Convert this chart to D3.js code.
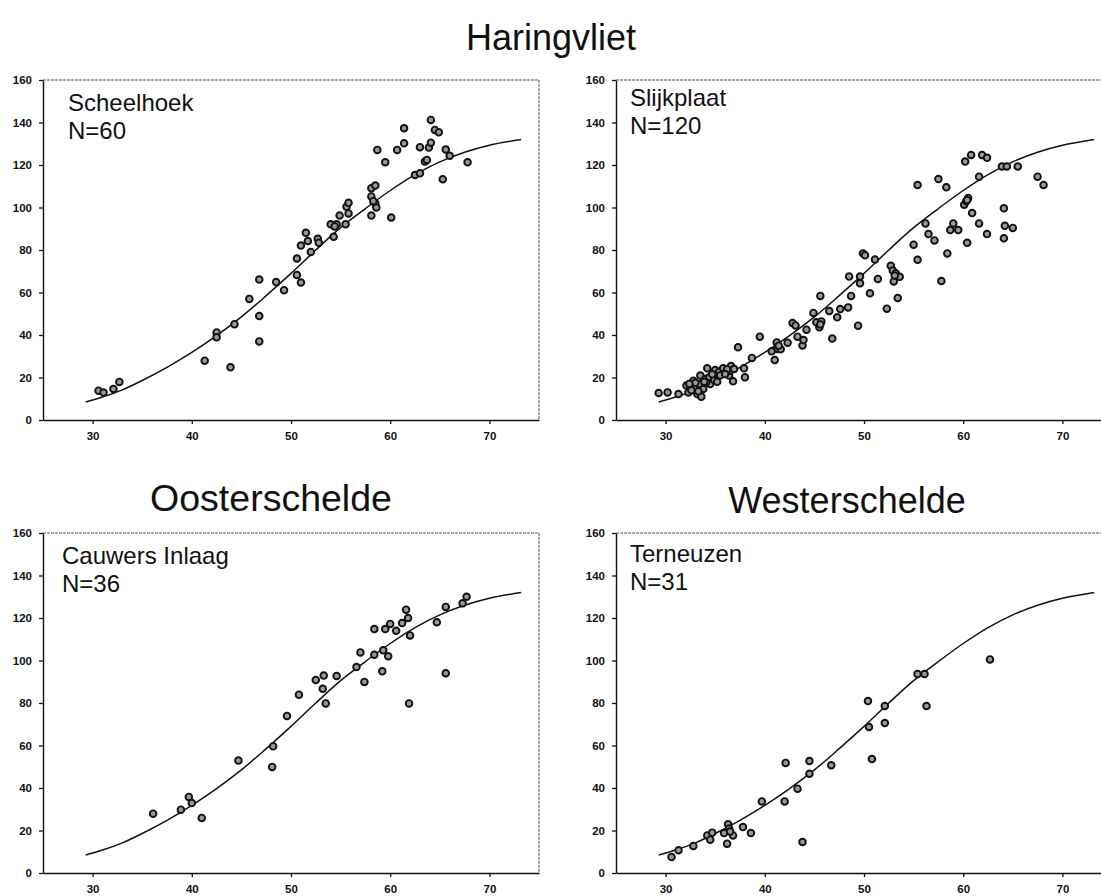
<!DOCTYPE html>
<html>
<head>
<meta charset="utf-8">
<script src="https://cdn.jsdelivr.net/npm/d3@7"></script>
<style>
body { margin: 0; background: #fff; }
svg text { font-family: "Liberation Sans", Arial, Helvetica, sans-serif; }
</style>
</head>
<body>
<div id="chart"></div>
<script>
/* Data: [length, value] */
var xTicks = [30, 40, 50, 60, 70];
var yTicks = [0, 20, 40, 60, 80, 100, 120, 140, 160];

var fitCurve = [[29.3, 8.5], [31, 10.8], [33, 14.2], [35, 18.6], [37.5, 24.8], [40, 31.8], [42.5, 39.7],
  [45, 48.5], [47.5, 58.5], [50, 69], [52.5, 80], [55, 90.5], [57.5, 99.5], [60, 108],
  [62.5, 115.5], [65, 121.5], [67.5, 126], [70, 129.3], [73.2, 132]];

var scheelhoek = [[30.6, 13.8], [31.1, 12.9], [32.1, 14.6], [32.7, 17.9], [41.3, 27.9], [42.5, 41.2],
  [42.5, 38.9], [43.9, 24.8], [44.3, 45.1], [45.8, 57.0], [46.8, 66.1], [46.8, 48.9], [46.8, 37.0],
  [48.5, 64.9], [49.3, 61.1], [50.6, 76.0], [50.6, 68.2], [51.0, 64.7], [51.0, 82.1], [51.5, 88.1],
  [51.7, 84.2], [52.0, 79.1], [52.7, 85.3], [52.8, 83.4], [54.0, 92.1], [54.3, 86.2], [54.6, 92.1],
  [54.4, 91.1], [54.9, 96.2], [55.5, 92.1], [55.6, 100.3], [55.8, 102.2], [55.8, 97.2], [58.1, 109.1],
  [58.5, 110.3], [58.1, 105.2], [58.5, 102.0], [58.6, 100.0], [58.1, 96.2], [58.7, 127.1], [59.5, 121.3],
  [60.1, 95.3], [60.7, 127.1], [61.4, 130.2], [61.4, 137.3], [62.5, 115.3], [63.0, 116.1], [63.0, 128.4],
  [63.5, 121.6], [63.7, 122.4], [63.9, 128.2], [64.1, 130.5], [64.1, 141.2], [64.5, 136.5], [64.9, 135.4],
  [65.3, 113.3], [65.6, 127.3], [66.0, 124.3], [67.8, 121.3], [58.3, 103.0]];

var slijkplaat = [[29.3, 12.7], [30.2, 13.0], [31.3, 12.2], [32.1, 16.2], [32.3, 13.0], [32.8, 18.5],
  [32.5, 15.1], [32.9, 15.1], [33.2, 12.2], [33.4, 16.9], [33.5, 20.9], [33.6, 11.0], [33.8, 14.6],
  [34.0, 19.3], [34.2, 24.3], [34.4, 20.1], [34.5, 16.9], [34.9, 18.8], [35.0, 23.5], [35.4, 22.7],
  [35.8, 24.3], [36.1, 22.4], [36.4, 20.9], [36.6, 25.4], [36.5, 23.2], [36.8, 18.2], [37.3, 34.2],
  [37.9, 24.3], [38.0, 20.1], [38.7, 29.2], [39.5, 39.2], [40.7, 32.3], [41.0, 28.2], [41.2, 36.5],
  [41.3, 33.4], [41.6, 33.3], [42.3, 36.4], [42.8, 45.6], [43.1, 44.5], [43.3, 39.2], [43.8, 35.1],
  [43.9, 37.6], [44.2, 42.5], [44.9, 50.4], [45.2, 46.0], [45.5, 43.6], [45.7, 46.4], [45.6, 58.4],
  [46.5, 51.3], [46.8, 38.3], [47.3, 48.3], [47.6, 52.2], [48.4, 53.0], [48.5, 67.5], [48.7, 58.4],
  [49.4, 44.4], [49.6, 67.5], [49.6, 64.3], [49.9, 78.4], [50.1, 77.5], [50.6, 59.6], [51.1, 75.5],
  [51.4, 66.4], [52.3, 52.4], [53.4, 57.4], [52.7, 72.6], [52.9, 70.3], [53.2, 69.0], [53.6, 67.4],
  [53.0, 65.2], [55.0, 82.5], [55.4, 110.6], [55.4, 75.4], [56.2, 92.5], [56.5, 87.5], [57.1, 84.5],
  [57.5, 113.4], [57.8, 65.4], [58.3, 109.5], [58.4, 78.4], [58.7, 89.4], [59.0, 92.5], [59.5, 89.4],
  [60.2, 121.6], [60.1, 101.3], [60.3, 102.9], [60.5, 104.5], [60.4, 83.4], [60.8, 124.7], [60.9, 97.4],
  [61.6, 114.5], [61.6, 92.5], [61.9, 124.7], [62.4, 123.4], [62.4, 87.5], [63.9, 119.3], [64.4, 119.3],
  [65.5, 119.3], [64.1, 99.6], [64.2, 91.4], [65.0, 90.4], [64.1, 85.5], [67.5, 114.5], [68.1, 110.6],
  [32.6, 14.0], [33.0, 17.5], [33.3, 13.5], [34.1, 17.8], [34.7, 21.5], [35.5, 21.0], [36.2, 23.8],
  [36.0, 21.6], [36.9, 24.0], [33.9, 18.0], [41.4, 35.0], [45.6, 45.0], [53.1, 68.0], [60.4, 103.5],
  [32.4, 17.0], [35.2, 18.0]];

var cauwers = [[36.1, 27.9], [38.9, 29.8], [39.7, 35.8], [40.0, 32.9], [41.0, 25.9], [44.7, 52.9],
  [48.1, 49.9], [48.2, 59.6], [49.6, 73.9], [50.8, 83.9], [52.5, 90.8], [53.2, 86.7], [53.3, 92.9],
  [53.5, 79.8], [54.6, 92.7], [56.6, 96.9], [57.0, 103.8], [57.4, 89.9], [58.4, 102.7], [58.4, 114.8],
  [59.2, 94.9], [59.3, 104.8], [59.5, 114.8], [59.8, 102.0], [60.0, 117.2], [60.6, 114.0], [61.2, 117.6],
  [61.6, 123.9], [61.8, 120.0], [62.0, 111.8], [61.9, 79.8], [64.7, 118.0], [65.6, 125.2], [65.6, 94.0],
  [67.3, 126.9], [67.7, 130.0]];

var terneuzen = [[30.6, 7.5], [31.3, 10.7], [32.8, 12.7], [34.2, 17.7], [34.5, 15.7], [34.7, 19.0],
  [35.9, 18.8], [36.2, 13.8], [36.3, 22.9], [36.4, 20.9], [36.8, 17.7], [37.8, 21.6], [38.6, 18.8],
  [39.7, 33.7], [42.0, 33.7], [42.1, 51.8], [43.3, 39.7], [43.8, 14.6], [44.5, 46.7], [44.5, 52.7],
  [46.7, 50.7], [50.4, 80.9], [50.5, 68.7], [50.8, 53.6], [52.1, 78.6], [52.1, 70.6], [55.4, 93.6],
  [56.1, 93.6], [56.3, 78.6], [62.7, 100.5], [36.5, 19.5]];

var regions = [
  { text: "Haringvliet", x: 551, y: 50, size: 36 },
  { text: "Oosterschelde", x: 271, y: 511, size: 37.5 },
  { text: "Westerschelde", x: 847, y: 513, size: 36 }
];

var panels = [
  { name: "Scheelhoek", n: "N=60", pts: scheelhoek, left: 43, top: 80, lx: 25, ly: 31 },
  { name: "Slijkplaat", n: "N=120", pts: slijkplaat, left: 616, top: 80, lx: 14, ly: 26 },
  { name: "Cauwers Inlaag", n: "N=36", pts: cauwers, left: 43, top: 533, lx: 19, ly: 31 },
  { name: "Terneuzen", n: "N=31", pts: terneuzen, left: 616, top: 533, lx: 14, ly: 29 }
];

var width = 496;
var height = 340;

var svg = d3.select("#chart").append("svg")
  .attr("width", 1101)
  .attr("height", 896);

svg.selectAll(".region-title")
  .data(regions).enter()
  .append("text")
  .attr("class", "region-title")
  .attr("x", d => d.x)
  .attr("y", d => d.y)
  .attr("text-anchor", "middle")
  .style("font-size", d => d.size + "px")
  .style("fill", "#111")
  .text(d => d.text);

panels.forEach(drawPanel);

function drawPanel(p) {
  var g = svg.append("g")
    .attr("transform", `translate(${p.left}, ${p.top})`);

  var xScale = d3.scaleLinear().domain([25, 75]).range([0, width]);
  var yScale = d3.scaleLinear().domain([0, 160]).range([height, 0]);

  /* thin top and right border */
  g.append("path")
    .attr("d", `M0,0H${width}V${height}`)
    .attr("fill", "none")
    .attr("stroke", "#555")
    .attr("stroke-width", 1)
    .attr("stroke-dasharray", "3,1");

  var xAxis = g.append("g")
    .attr("transform", `translate(0, ${height})`)
    .call(d3.axisBottom(xScale).tickValues(xTicks).tickSize(4).tickPadding(8).tickSizeOuter(0));

  var yAxis = g.append("g")
    .call(d3.axisLeft(yScale).tickValues(yTicks).tickSize(4).tickPadding(7).tickSizeOuter(0));

  [xAxis, yAxis].forEach(function(a) {
    a.select(".domain").attr("stroke", "#111").attr("stroke-width", 1.4);
    a.selectAll(".tick line").attr("stroke", "#111").attr("stroke-width", 1.3);
    a.selectAll(".tick text")
      .style("font-size", "11.5px")
      .style("font-weight", "bold")
      .style("font-family", "'Liberation Sans', Arial, sans-serif")
      .attr("fill", "#111");
  });

  /* fitted curve */
  var line = d3.line()
    .x(d => xScale(d[0]))
    .y(d => yScale(d[1]))
    .curve(d3.curveCatmullRom.alpha(0.5));

  g.append("path")
    .datum(fitCurve)
    .attr("d", line)
    .attr("fill", "none")
    .attr("stroke", "#111")
    .attr("stroke-width", 1.5);

  g.selectAll(".dot")
    .data(p.pts).enter()
    .append("circle")
    .attr("class", "dot")
    .attr("cx", d => xScale(d[0]))
    .attr("cy", d => yScale(d[1]))
    .attr("r", 3.3)
    .attr("fill", "#999")
    .attr("stroke", "#111")
    .attr("stroke-width", 1.9);

  /* site name and sample size, two separate lines */
  g.append("text")
    .attr("x", p.lx)
    .attr("y", p.ly)
    .style("font-size", "24px")
    .style("fill", "#111")
    .text(p.name);

  g.append("text")
    .attr("x", p.lx)
    .attr("y", p.ly + 28)
    .style("font-size", "24px")
    .style("fill", "#111")
    .text(p.n);
}
</script>
</body>
</html>
